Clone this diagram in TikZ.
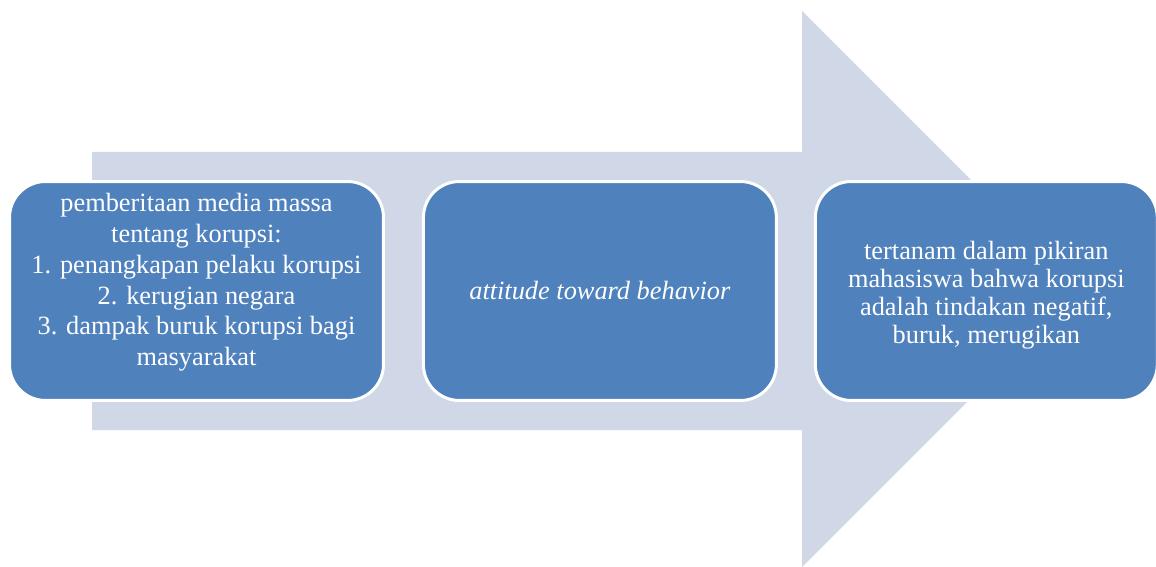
\documentclass[tikz,border=0pt]{standalone}
\usepackage{fontspec}
\setmainfont{Liberation Serif}
\usetikzlibrary{positioning}
\definecolor{kotakbiru}{HTML}{4F81BD}
\definecolor{panahabu}{HTML}{D0D8E8}

\begin{document}
\begin{tikzpicture}[x=0.02cm, y=-0.02cm, node distance=0.74cm and 0.72cm,
    every node/.style={font=\fontsize{15}{17.5}\selectfont},
    kotak/.style={rectangle, rounded corners=0.72cm, draw=white, line width=1.7pt, fill=kotakbiru, text=white, minimum height=4.38cm, align=center, inner sep=0pt}]

  \useasboundingbox (0,0) rectangle (1156,567);
  \clip (0,0) rectangle (1156,567);

  % panah besar di belakang
  \fill[panahabu] (92,152) -- (802,152) -- (802,11) -- (1080,289) -- (802,567) -- (802,430) -- (92,430) -- cycle;

  \node[kotak, minimum width=7.48cm, text depth=0.46cm] (media) at (196.5,291) {pemberitaan media massa\\tentang korupsi:\\1. penangkapan pelaku korupsi\\2. kerugian negara\\3. dampak buruk korupsi bagi\\masyarakat};
  \node[kotak, minimum width=7.06cm, right=0.74cm of media] (sikap) {\textit{attitude toward behavior}};
  \node[kotak, minimum width=6.84cm, right=0.72cm of sikap, text height=2.21cm, font=\fontsize{15}{16}\selectfont] (hasil) {tertanam dalam pikiran\\mahasiswa bahwa korupsi\\adalah tindakan negatif,\\buruk, merugikan};
\end{tikzpicture}
\end{document}
